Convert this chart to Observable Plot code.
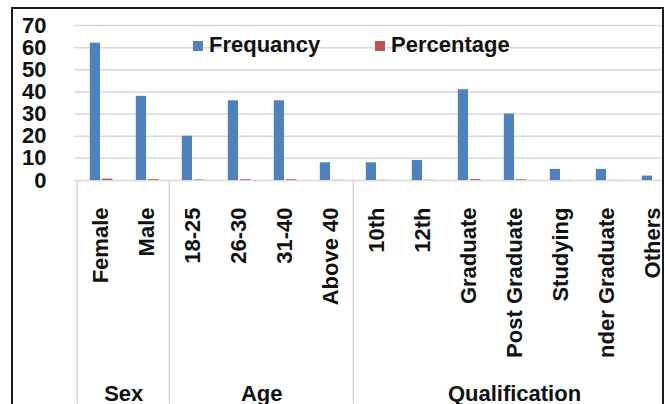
<!DOCTYPE html>
<html>
<head>
<meta charset="utf-8">
<script src="https://cdn.jsdelivr.net/npm/d3@7"></script>
<script src="https://cdn.jsdelivr.net/npm/@observablehq/plot@0.6"></script>
<style>
  html, body { margin: 0; padding: 0; background: #fff; }
  #wrap { position: relative; width: 666px; height: 404px; overflow: hidden; background: #fff;
          font-family: "Liberation Sans", Arial, sans-serif; }
  #chart { position: absolute; left: 0; top: 0; width: 666px; height: 404px; clip-path: inset(8px 2px 0 12px); }
  #frame { position: absolute; left: 11px; top: 7px; width: 649px; height: 420px;
           border-left: 2.5px solid #1b1b1b; border-top: 2.5px solid #1b1b1b; border-right: 2.5px solid #1b1b1b; }
  .leg { position: absolute; font-size: 22px; font-weight: bold; color: #111; line-height: 22px; white-space: nowrap; }
  .sw { position: absolute; width: 10px; height: 10px; }
</style>
</head>
<body>
<div id="wrap">
  <div id="chart"></div>
  <div class="sw" id="sw1"></div><div class="leg" id="lg1"></div>
  <div class="sw" id="sw2"></div><div class="leg" id="lg2"></div>
  <div id="frame"></div>
</div>
<script>
const categories = ["Female", "Male", "18-25", "26-30", "31-40", "Above 40", "10th", "12th", "Graduate", "Post Graduate", "Studying", "nder Graduate", "Others"];
const frequency = [62, 38, 20, 36, 36, 8, 8, 9, 41, 30, 5, 5, 2];
const percentage = [0.62, 0.38, 0.20, 0.36, 0.36, 0.08, 0.08, 0.09, 0.41, 0.30, 0.05, 0.05, 0.02];
const groupNames = ["Sex", "Age", "Qualification"];
const groupSizes = [2, 4, 7];
const yTicks = [0, 10, 20, 30, 40, 50, 60, 70];
const seriesNames = ["Frequancy", "Percentage"];
const seriesColors = ["#4f81bd", "#c0504d"];

const rows = categories.map((c, i) => ({cat: c, freq: frequency[i], pct: percentage[i]}));

const step = 46.45;
const x0 = 74;
const font = "'Liberation Sans', Arial, sans-serif";

// group boundaries (first category of each group) and label anchors
const groupStarts = [];
const groupMarks = [];
let idx = 0;
groupNames.forEach((g, gi) => {
  const n = groupSizes[gi];
  groupStarts.push(categories[idx]);
  const mid = categories[idx + Math.floor((n - 1) / 2)];
  groupMarks.push(Plot.text([g], {
    x: () => mid, y: () => 0, text: d => d,
    dx: n % 2 === 0 ? step / 2 : 0, dy: 213,
    fontSize: 22, fontWeight: "bold", fill: "#111", textAnchor: "middle"
  }));
  idx += n;
});

const chart = Plot.plot({
  width: 666,
  height: 404,
  marginLeft: x0,
  marginRight: 0,
  marginTop: 25,
  marginBottom: 224,
  style: {fontFamily: font, background: "transparent", color: "#111", overflow: "hidden"},
  x: {type: "band", domain: categories, range: [x0, x0 + step * categories.length], padding: 0, axis: null},
  y: {domain: [0, 70], axis: null},
  marks: [
    Plot.gridY(yTicks, {stroke: "#d9d9d9", strokeOpacity: 1, strokeWidth: 1.5}),
    Plot.axisY(yTicks, {tickSize: 0, tickPadding: 28, fontSize: 22, fontWeight: "bold", fill: "#111", label: null}),
    Plot.ruleX(groupStarts, {x: d => d, y1: 0, y2: -101, dx: -step / 2, stroke: "#d9d9d9", strokeWidth: 1.5}),
    Plot.barY(rows, {x: "cat", y: "freq", fill: seriesColors[0], insetLeft: 12.8, insetRight: 23.0}),
    Plot.barY(rows, {x: "cat", y: "pct", fill: seriesColors[1], insetLeft: 25, insetRight: 10.5}),
    Plot.text(categories, {x: d => d, y: () => 0, text: d => d, rotate: -90, textAnchor: "end", dy: 27,
      fontSize: 22, fontWeight: "bold", fill: "#111"}),
    ...groupMarks
  ]
});
document.getElementById("chart").appendChild(chart);

// legend
const sw1 = document.getElementById("sw1");
sw1.style.left = "193px"; sw1.style.top = "41px"; sw1.style.background = seriesColors[0];
const lg1 = document.getElementById("lg1");
lg1.style.left = "209px"; lg1.style.top = "34px"; lg1.textContent = seriesNames[0];
const sw2 = document.getElementById("sw2");
sw2.style.left = "375px"; sw2.style.top = "41px"; sw2.style.background = seriesColors[1];
const lg2 = document.getElementById("lg2");
lg2.style.left = "391px"; lg2.style.top = "34px"; lg2.textContent = seriesNames[1];
</script>
</body>
</html>
